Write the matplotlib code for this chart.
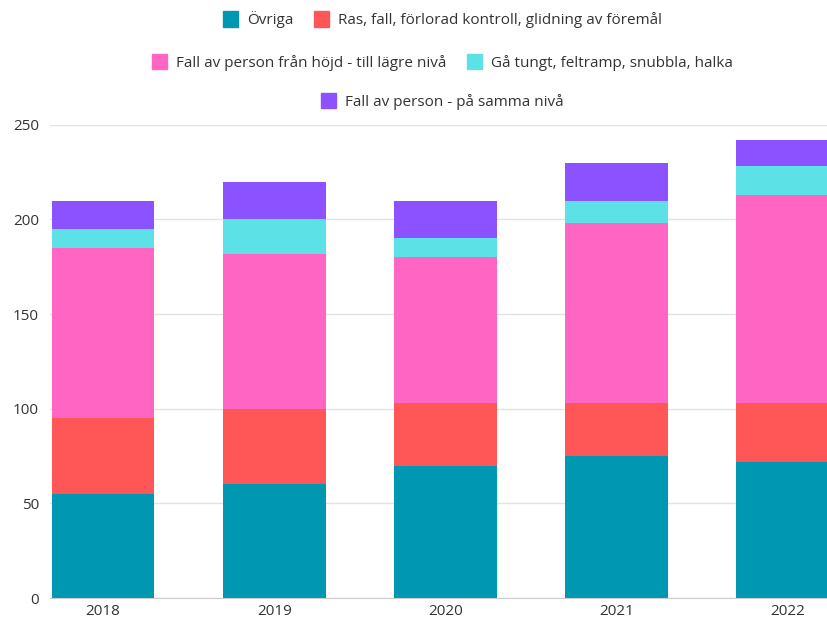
import numpy as np
from matplotlib import pyplot as plt
from matplotlib.patches import Patch

plt.rcParams["font.family"] = ["Open Sans", "DejaVu Sans"]

# data
years = ["2018", "2019", "2020", "2021", "2022"]
ovriga = [55, 60, 70, 75, 72]
ras_fall = [40, 40, 33, 28, 31]
fall_hojd = [90, 82, 77, 95, 110]
ga_tungt = [10, 18, 10, 12, 15]
fall_samma = [15, 20, 20, 20, 14]

labels = ["Övriga",
          "Ras, fall, förlorad kontroll, glidning av föremål",
          "Fall av person från höjd - till lägre nivå",
          "Gå tungt, feltramp, snubbla, halka",
          "Fall av person - på samma nivå"]
colors = ["#0097B2", "#FF5757", "#FF66C4", "#5CE1E6", "#8C52FF"]
series = [ovriga, ras_fall, fall_hojd, ga_tungt, fall_samma]

fig = plt.figure(figsize=(8.27, 6.21), dpi=100)
ax = fig.add_axes([0.0605, 0.037, 0.9395, 0.762])

x = np.arange(len(years))
bottom = np.zeros(len(years))
for vals, col in zip(series, colors):
    ax.bar(x, vals, width=0.6, bottom=bottom, color=col, zorder=2)
    bottom += np.array(vals)

ax.set_ylim(0, 250)
ax.set_xlim(-0.31, 4.23)
ax.set_yticks([0, 50, 100, 150, 200, 250])
ax.set_xticks(x)
ax.set_xticklabels(years)
ax.tick_params(length=0, labelsize=11, colors="#333333")
ax.tick_params(axis="x", pad=4)
ax.tick_params(axis="y", pad=8)
ax.grid(axis="y", color="#e3e3e3", linewidth=1, zorder=0)
for s in ["top", "right", "left"]:
    ax.spines[s].set_visible(False)
ax.spines["bottom"].set_color("#cccccc")
ax.spines["bottom"].set_zorder(3)

# legend in three centered rows
handles = [Patch(color=c) for c in colors]
rows = [[0, 1], [2, 3], [4]]
row_y = [0.968, 0.900, 0.837]
for idx, yy in zip(rows, row_y):
    fig.legend([handles[i] for i in idx], [labels[i] for i in idx],
               loc="center", bbox_to_anchor=(0.535, yy), ncol=len(idx),
               frameon=False, fontsize=11, handlelength=1.0, handleheight=1.2,
               handletextpad=0.6, columnspacing=1.3, labelcolor="#333333")

fig.savefig("out.png", dpi=100)
